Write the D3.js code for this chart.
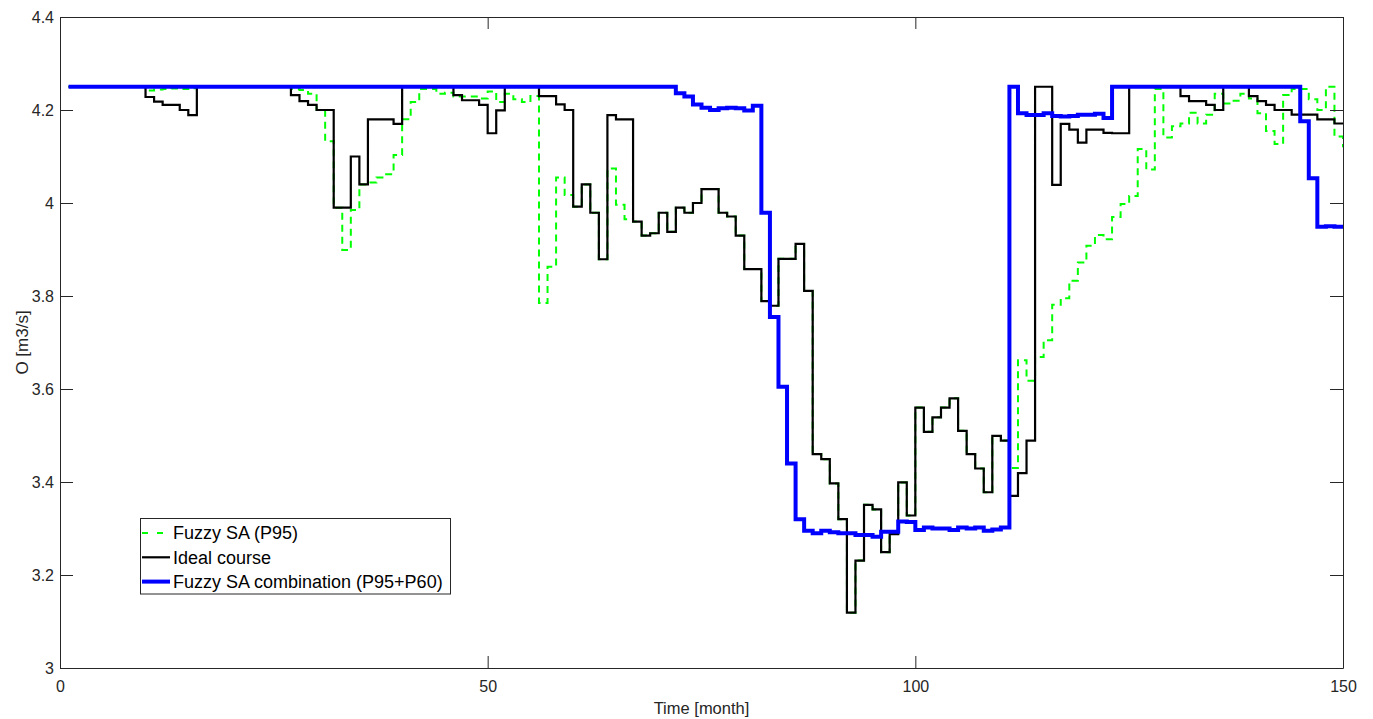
<!DOCTYPE html>
<html>
<head>
<script src="https://d3js.org/d3.v7.min.js"></script>
<style>
	body {
		margin: 0;
		background: #ffffff;
	}
	svg {
		display: block;
		font-family: Arial, "Liberation Sans", Helvetica, sans-serif;
	}
</style>
</head>
<body>
<svg id="chart" width="1373" height="719"></svg>
<script>
	// months 1..150
	var months = d3.range(1, 151);

	var xTicks = [0, 50, 100, 150];
	var yTicks = [3, 3.2, 3.4, 3.6, 3.8, 4, 4.2, 4.4];

	var seriesNames = ["Fuzzy SA (P95)", "Ideal course", "Fuzzy SA combination (P95+P60)"];

	// Fuzzy SA (P95) - green dashed
	var fuzzyP95 = [
		4.25,4.25,4.25,4.25,4.25,4.25,4.25,4.25,4.25,4.242,
		4.244,4.245,4.246,4.245,4.247,4.25,4.25,4.25,4.25,4.25,
		4.25,4.25,4.25,4.25,4.25,4.25,4.245,4.243,4.235,4.2,
		4.133,3.99,3.899,3.985,4.04,4.044,4.055,4.062,4.103,4.18,
		4.217,4.245,4.245,4.235,4.237,4.229,4.229,4.229,4.225,4.24,
		4.217,4.235,4.223,4.217,4.23,3.785,3.863,4.055,4.017,3.992,
		4.04,3.979,3.879,4.074,3.996,3.965,3.96,3.93,3.935,3.979,
		3.938,3.99,3.979,4.0,4.03,4.03,3.979,3.971,3.930,3.858,
		3.858,3.789,3.779,3.880,3.880,3.912,3.811,3.460,3.449,3.397,
		3.320,3.119,3.231,3.351,3.341,3.249,3.288,3.399,3.328,3.560,
		3.508,3.539,3.560,3.580,3.510,3.460,3.429,3.378,3.499,3.489,
		3.43,3.662,3.618,3.669,3.705,3.781,3.795,3.833,3.872,3.908,
		3.931,3.922,3.97,3.998,4.015,4.116,4.072,4.245,4.141,4.165,
		4.171,4.194,4.171,4.19,4.235,4.214,4.22,4.235,4.225,4.193,
		4.155,4.127,4.232,4.245,4.245,4.223,4.2,4.25,4.143,4.12
	];

	// Ideal course - black
	var idealCourse = [
		4.25,4.25,4.25,4.25,4.25,4.25,4.25,4.25,4.25,4.228,
		4.218,4.211,4.211,4.200,4.189,4.25,4.25,4.25,4.25,4.25,
		4.25,4.25,4.25,4.25,4.25,4.25,4.232,4.219,4.211,4.200,
		4.200,3.99,3.99,4.10,4.04,4.18,4.18,4.18,4.17,4.25,
		4.25,4.25,4.25,4.25,4.25,4.232,4.221,4.221,4.211,4.15,
		4.199,4.25,4.25,4.25,4.25,4.230,4.230,4.212,4.2,3.992,
		4.04,3.979,3.879,4.189,4.18,4.18,3.96,3.93,3.935,3.979,
		3.938,3.99,3.979,4.0,4.03,4.03,3.979,3.971,3.930,3.858,
		3.858,3.789,3.779,3.880,3.880,3.912,3.811,3.460,3.449,3.397,
		3.320,3.119,3.231,3.351,3.341,3.249,3.288,3.399,3.328,3.560,
		3.508,3.539,3.560,3.580,3.510,3.460,3.429,3.378,3.499,3.489,
		3.370,3.419,3.489,4.25,4.25,4.039,4.170,4.158,4.130,4.158,
		4.158,4.151,4.150,4.150,4.25,4.25,4.25,4.25,4.25,4.25,
		4.230,4.219,4.219,4.211,4.2,4.25,4.25,4.25,4.230,4.219,
		4.211,4.2,4.2,4.19,4.19,4.19,4.18,4.18,4.171,4.171
	];

	// Fuzzy SA combination (P95+P60) - blue
	var fuzzyCombo = [
		4.25,4.25,4.25,4.25,4.25,4.25,4.25,4.25,4.25,4.25,
		4.25,4.25,4.25,4.25,4.25,4.25,4.25,4.25,4.25,4.25,
		4.25,4.25,4.25,4.25,4.25,4.25,4.25,4.25,4.25,4.25,
		4.25,4.25,4.25,4.25,4.25,4.25,4.25,4.25,4.25,4.25,
		4.25,4.25,4.25,4.25,4.25,4.25,4.25,4.25,4.25,4.25,
		4.25,4.25,4.25,4.25,4.25,4.25,4.25,4.25,4.25,4.25,
		4.25,4.25,4.25,4.25,4.25,4.25,4.25,4.25,4.25,4.25,
		4.25,4.236,4.229,4.212,4.205,4.2,4.204,4.205,4.204,4.199,
		4.209,3.979,3.755,3.605,3.440,3.320,3.295,3.290,3.295,3.292,
		3.29,3.29,3.286,3.286,3.282,3.293,3.293,3.315,3.314,3.297,
		3.302,3.300,3.300,3.297,3.302,3.300,3.302,3.295,3.298,3.302,
		4.25,4.193,4.189,4.189,4.193,4.187,4.186,4.187,4.19,4.19,
		4.192,4.183,4.25,4.25,4.25,4.25,4.25,4.25,4.25,4.25,
		4.25,4.25,4.25,4.25,4.25,4.25,4.25,4.25,4.25,4.25,
		4.25,4.25,4.25,4.25,4.176,4.053,3.949,3.950,3.949,3.949
	];

	var axisColor = "#262626";

	var svg = d3.select("#chart");

	var x = d3.scaleLinear().domain([0, 150]).range([60, 1343]);
	var y = d3.scaleLinear().domain([3, 4.4]).range([668, 17]);

	///////////////////////////
	// Lines
	///////////////////////////
	function stairs(values) {
		return d3.line()
			.x(function (d, i) { return x(months[i]); })
			.y(function (d) { return y(d); })
			.curve(d3.curveStepAfter)(values);
	}

	var lines = [
		{ values: fuzzyP95, color: "#00ff00", width: 2, dash: "7,5" },
		{ values: idealCourse, color: "#000000", width: 2.2, dash: null },
		{ values: fuzzyCombo, color: "#0000ff", width: 4, dash: null }
	];

	var plot = svg.append("g");
	lines.forEach(function (l) {
		plot.append("path")
			.attr("d", stairs(l.values))
			.attr("fill", "none")
			.attr("stroke", l.color)
			.attr("stroke-width", l.width)
			.attr("stroke-dasharray", l.dash);
	});

	///////////////////////////
	// Axes (MATLAB-like box, ticks inside)
	///////////////////////////
	var gx = svg.append("g").attr("transform", "translate(0,668)")
		.call(d3.axisBottom(x).tickValues(xTicks).tickSize(-12).tickSizeOuter(0).tickPadding(13));
	var gxTop = svg.append("g").attr("transform", "translate(0,17)")
		.call(d3.axisTop(x).tickValues(xTicks).tickSize(-12).tickSizeOuter(0).tickFormat(""));
	var gy = svg.append("g").attr("transform", "translate(60,0)")
		.call(d3.axisLeft(y).tickValues(yTicks).tickSize(-13).tickSizeOuter(0).tickPadding(6)
			.tickFormat(function (d) { return d3.format("")(+d.toFixed(1)); }));
	var gyRight = svg.append("g").attr("transform", "translate(1343,0)")
		.call(d3.axisRight(y).tickValues(yTicks).tickSize(-13).tickSizeOuter(0).tickFormat(""));

	[gx, gxTop, gy, gyRight].forEach(function (g) {
		g.selectAll("path, line").attr("stroke", axisColor).attr("stroke-width", 1);
		g.selectAll("text").attr("fill", axisColor).style("font-size", "16px")
			.style("font-family", "Arial, 'Liberation Sans', Helvetica, sans-serif");
	});

	// axis labels
	svg.append("text")
		.attr("x", 701.5).attr("y", 714)
		.attr("text-anchor", "middle")
		.attr("fill", axisColor)
		.style("font-size", "16.5px")
		.text("Time [month]");

	svg.append("text")
		.attr("transform", "translate(28,342.5) rotate(-90)")
		.attr("text-anchor", "middle")
		.attr("fill", axisColor)
		.style("font-size", "17px")
		.text("O [m3/s]");

	///////////////////////////
	// Legend
	///////////////////////////
	var legend = svg.append("g");
	legend.append("rect")
		.attr("x", 140.5).attr("y", 518.5)
		.attr("width", 310).attr("height", 75.5)
		.attr("fill", "#ffffff")
		.attr("stroke", axisColor)
		.attr("stroke-width", 1);

	lines.forEach(function (l, i) {
		var cy = 533 + i * 24.3;
		legend.append("line")
			.attr("x1", 142).attr("x2", 170)
			.attr("y1", cy).attr("y2", cy)
			.attr("stroke", l.color)
			.attr("stroke-width", l.width)
			.attr("stroke-dasharray", l.dash ? "6,9" : null);
		legend.append("text")
			.attr("x", 173).attr("y", cy)
			.attr("dy", "0.36em")
			.attr("fill", "#000000")
			.style("font-size", "18px")
			.text(seriesNames[i]);
	});
</script>
</body>
</html>
